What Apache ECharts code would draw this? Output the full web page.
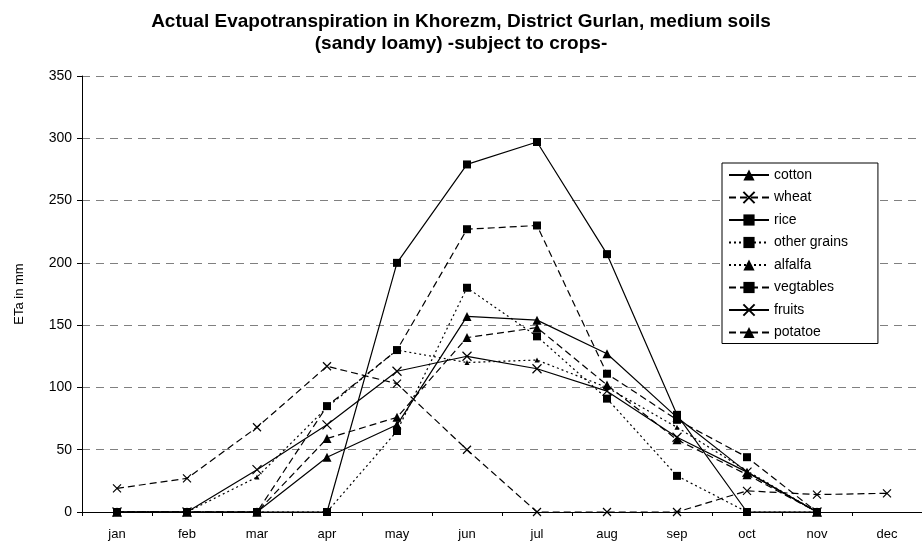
<!DOCTYPE html>
<html>
<head>
<meta charset="utf-8">
<script src="https://cdn.jsdelivr.net/npm/echarts@6/dist/echarts.min.js"></script>
<style>
  html, body { margin: 0; padding: 0; background: #fff; }
  #chart { width: 922px; height: 549px; }
</style>
</head>
<body>
<div id="chart"></div>
<script>
  var months = ['jan', 'feb', 'mar', 'apr', 'may', 'jun', 'jul', 'aug', 'sep', 'oct', 'nov', 'dec']

  // ETa in mm
  var cotton      = [0, 0, 0, 44, 70, 157, 154, 127, 76, 32, 0, null]
  var wheat       = [19, 27, 68, 117, 103, 50, 0, 0, 0, 17, 14, 15]
  var rice        = [0, 0, 0, 0, 200, 279, 297, 207, 78, 0, 0, null]
  var otherGrains = [0, 0, 0, 0, 65, 180, 141, 91, 29, 0, 0, null]
  var alfalfa     = [0, 0, 28, 84, 130, 120, 122, 100, 68, 33, 0, null]
  var vegtables   = [0, 0, 0, 85, 130, 227, 230, 111, 74, 44, 0, null]
  var fruits      = [0, 0, 34, 70, 113, 125, 115, 97, 60, 32, 0, null]
  var potatoe     = [0, 0, 0, 59, 76, 140, 148, 102, 58, 30, 0, null]

  var cross = 'path://M0,0L10,10M10,0L0,10'
  var solid = 'solid'
  var dashed = [7, 4]
  var dotted = [2, 3]

  function makeSeries(name, data, symbol, size, dash) {
    return {
      name: name,
      type: 'line',
      data: data,
      symbol: symbol,
      symbolSize: size,
      showAllSymbol: true,
      animation: false,
      lineStyle: { color: '#000', width: 1.2, type: dash },
      itemStyle: { color: '#000', borderColor: '#000', borderWidth: symbol === cross ? 1.2 : 0 },
    }
  }

  var chart = echarts.init(document.getElementById('chart'))
  chart.setOption({
    backgroundColor: '#fff',
    textStyle: { fontFamily: 'Liberation Sans, Arial, sans-serif' },
    title: {
      text: 'Actual Evapotranspiration in Khorezm, District Gurlan, medium soils\n(sandy loamy) -subject to crops-',
      left: 'center',
      top: 6,
      textStyle: { fontSize: 19, fontWeight: 'bold', color: '#000', lineHeight: 22 },
    },
    grid: { left: 82, top: 76, right: -8, bottom: 37 },
    legend: {
      orient: 'vertical',
      left: 722,
      top: 163,
      width: 160,
      padding: [5, 30, 4, 6],
      itemWidth: 40,
      itemHeight: 14,
      itemGap: 8.5,
      backgroundColor: '#fff',
      borderColor: '#000',
      borderWidth: 1,
      textStyle: { fontSize: 14, color: '#000' },
      data: ['cotton', 'wheat', 'rice', 'other grains', 'alfalfa', 'vegtables', 'fruits', 'potatoe'],
    },
    xAxis: {
      type: 'category',
      data: months,
      boundaryGap: true,
      axisLine: { lineStyle: { color: '#000', width: 1 } },
      axisTick: { show: true, length: 4, lineStyle: { color: '#000' } },
      axisLabel: { fontSize: 13, color: '#000', margin: 16 },
    },
    yAxis: {
      type: 'value',
      min: 0,
      max: 350,
      interval: 50,
      name: 'ETa in mm',
      nameLocation: 'middle',
      nameGap: 56,
      nameTextStyle: { fontSize: 13, color: '#000' },
      axisLine: { show: true, lineStyle: { color: '#000', width: 1 } },
      axisTick: { show: true, length: 5, lineStyle: { color: '#000' } },
      axisLabel: { fontSize: 14, color: '#000', margin: 10 },
      splitLine: { lineStyle: { color: '#808080', width: 1, type: [8, 6] } },
    },
    series: [
      makeSeries('cotton', cotton, 'triangle', 9, solid),
      makeSeries('wheat', wheat, cross, 8, dashed),
      makeSeries('rice', rice, 'rect', 8, solid),
      makeSeries('other grains', otherGrains, 'rect', 8, dotted),
      makeSeries('alfalfa', alfalfa, 'triangle', 5, dotted),
      makeSeries('vegtables', vegtables, 'rect', 8, dashed),
      makeSeries('fruits', fruits, cross, 9, solid),
      makeSeries('potatoe', potatoe, 'triangle', 9, dashed),
    ],
  })
</script>
</body>
</html>
